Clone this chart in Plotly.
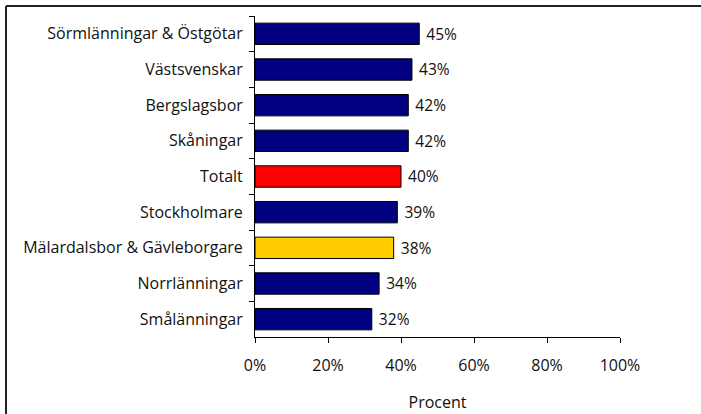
import plotly.graph_objects as go

categories = ["Sörmlänningar & Östgötar", "Västsvenskar", "Bergslagsbor", "Skåningar",
              "Totalt", "Stockholmare", "Mälardalsbor & Gävleborgare", "Norrlänningar", "Smålänningar"]
values = [45, 43, 42, 42, 40, 39, 38, 34, 32]
colors = ["#000080", "#000080", "#000080", "#000080", "#FF0000", "#000080", "#FFCC00", "#000080", "#000080"]
x_ticks = [0, 20, 40, 60, 80, 100]
x_tick_labels = ["0%", "20%", "40%", "60%", "80%", "100%"]

W, H = 701, 414
ML, MR, MT, MB = 255, 81, 16, 77
pw, ph = W - ML - MR, H - MT - MB

FONT = "Open Sans"


def px_x(p):
    return (p - ML) / pw


def px_y(p):
    return 1 - (p - MT) / ph


fig = go.Figure(go.Bar(
    y=categories, x=values, orientation="h",
    marker=dict(color=colors, line=dict(color="black", width=1)),
    width=0.6,
    text=[f"\u00a0{v}%" for v in values], textposition="outside",
    textfont=dict(family=FONT, size=16, color="#111"),
    cliponaxis=False,
))

border = dict(color="#222222", width=2)
fig.update_layout(
    width=W, height=H,
    margin=dict(l=ML, r=MR, t=MT, b=MB, pad=0, autoexpand=False),
    paper_bgcolor="white", plot_bgcolor="white",
    showlegend=False,
    font=dict(family=FONT, size=16, color="#111"),
    xaxis=dict(range=[0, 100], tickvals=x_ticks, ticktext=x_tick_labels, automargin=False,
               showgrid=False, zeroline=False, showline=True, linecolor="black", linewidth=1,
               ticks="outside", ticklen=5, tickcolor="black", ticklabelstandoff=9,
               tickfont=dict(family=FONT, size=16),
               title=dict(text="Procent", font=dict(family=FONT, size=16), standoff=21)),
    yaxis=dict(autorange="reversed", showgrid=False, zeroline=False, automargin=False,
               showline=True, linecolor="black", linewidth=1,
               ticks="outside", ticklen=5, tickcolor="black", tickson="boundaries",
               tickfont=dict(family=FONT, size=16), ticklabelstandoff=8),
    shapes=[
        dict(type="line", xref="paper", yref="paper", x0=px_x(6), x1=px_x(W), y0=px_y(6), y1=px_y(6),
             line=border, layer="above"),
        dict(type="line", xref="paper", yref="paper", x0=px_x(6), x1=px_x(6), y0=px_y(6), y1=px_y(H),
             line=border, layer="above"),
    ],
)

fig.write_html("out.html", config={"displayModeBar": False},
               post_script="document.body.style.margin='0';document.body.style.overflow='hidden';")
